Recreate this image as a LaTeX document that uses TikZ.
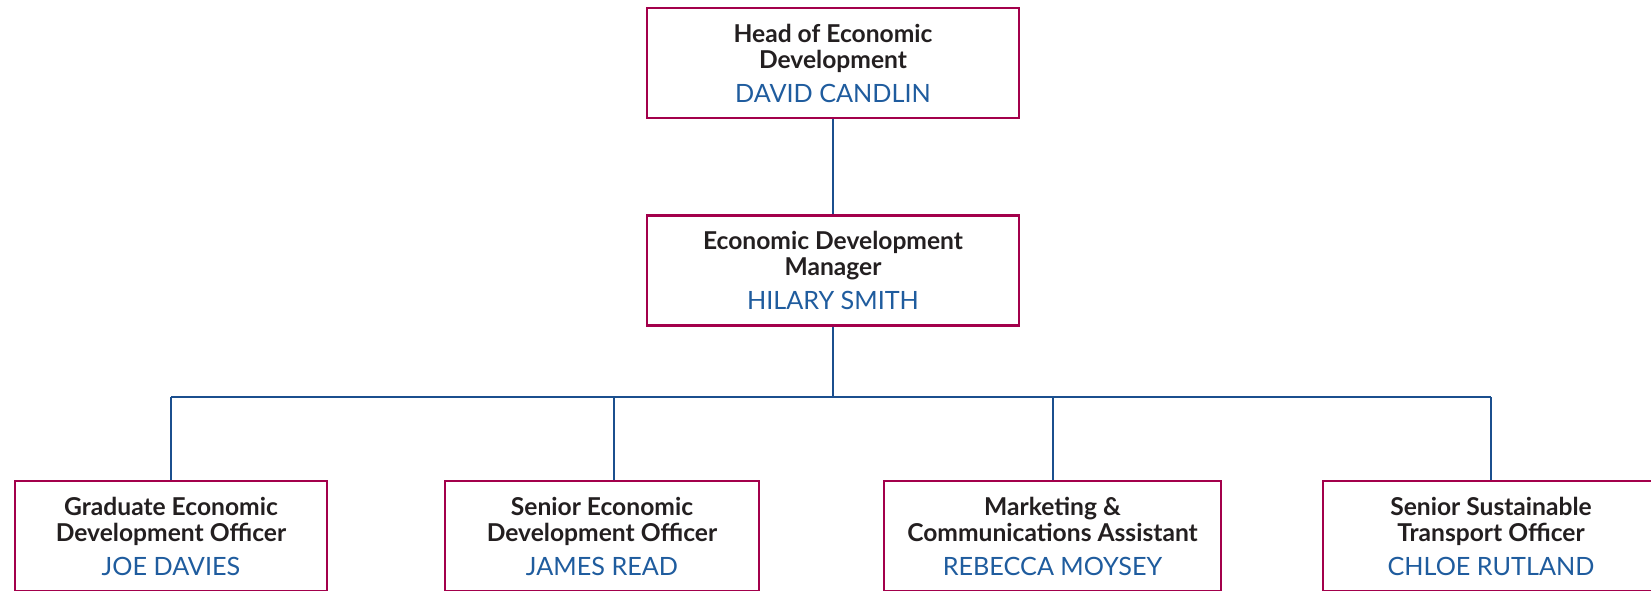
\documentclass[tikz,border=0pt]{standalone}
\usepackage{fontspec}
\setmainfont{Lato}
\usepackage{xcolor}
\definecolor{boxred}{HTML}{A3004B}
\definecolor{nameblue}{HTML}{1F5C9E}
\definecolor{lineblue}{HTML}{1B4F8E}
\definecolor{titlegrey}{HTML}{231F20}
\tikzset{
  post/.style={draw=boxred, line width=1.3pt, fill=white, minimum height=55pt,
    align=center, inner sep=0pt, text=titlegrey,
    font=\bfseries\fontsize{12.3}{13}\selectfont},
  link/.style={draw=lineblue, line width=1pt},
}
\newcommand{\who}[1]{\\[4pt]{\mdseries\fontsize{12.6}{13}\selectfont\color{nameblue}#1}}

\begin{document}
\begin{tikzpicture}[x=0.5pt,y=-0.5pt]
    \useasboundingbox (0,0) rectangle (1651,590);
    % head and manager
    \node[post, minimum width=186pt] (head) at (833,63) {Head of Economic\\Development\who{DAVID CANDLIN}};
    \node[post, minimum width=186pt] (mgr) at (833,270.5) {Economic Development\\Manager\who{HILARY SMITH}};
    % officers
    \node[post, minimum width=156pt] (grad) at (171,536) {Graduate Economic\\Development Officer\who{JOE DAVIES}};
    \node[post, minimum width=157pt] (senior) at (602,536) {Senior Economic\\Development Officer\who{JAMES READ}};
    \node[post, minimum width=168.5pt] (market) at (1052.5,536) {Marketing \&\\Communications Assistant\who{REBECCA MOYSEY}};
    \node[post, minimum width=168pt] (transport) at (1491,536) {Senior Sustainable\\Transport Officer\who{CHLOE RUTLAND}};
    % connectors
    \coordinate (bar) at (833,397);
    \draw[link] (head) -- (mgr);
    \draw[link] (mgr.south) -- (bar);
    \draw[link] (grad.north |- bar) -- (transport.north |- bar);
    \foreach \n in {grad,market,transport}
        \draw[link] (\n.north |- bar) -- (\n.north);
    \draw[link] ([xshift=6pt]senior.north |- bar) -- ([xshift=6pt]senior.north);
\end{tikzpicture}
\end{document}
